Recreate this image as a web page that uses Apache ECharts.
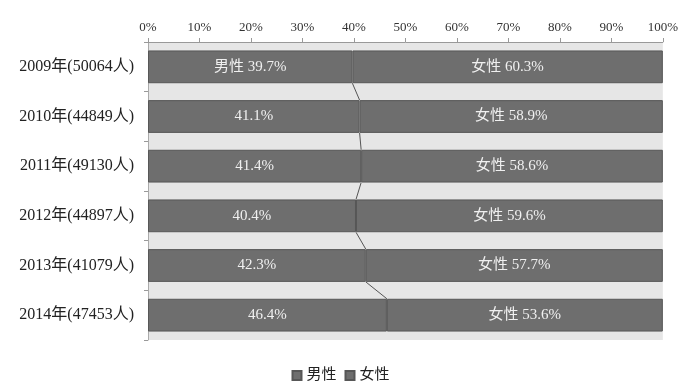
<!DOCTYPE html>
<html><head><meta charset="utf-8">
<script src="https://cdn.jsdelivr.net/npm/echarts@6/dist/echarts.min.js"></script>
<style>html,body{margin:0;padding:0;background:#fff}#c{width:681px;height:385px}</style>
</head><body><div id="c"></div>
<script>
const categories = ['2009年(50064人)','2010年(44849人)','2011年(49130人)','2012年(44897人)','2013年(41079人)','2014年(47453人)'];
const male = [39.7, 41.1, 41.4, 40.4, 42.3, 46.4];
const female = [60.3, 58.9, 58.6, 59.6, 57.7, 53.6];
const xTicks = [0,10,20,30,40,50,60,70,80,90,100];
const seriesNames = ['男性','女性'];

const FONT = '"Liberation Serif", "Noto Sans CJK SC", serif';
const BAR_RATIO = 0.66;
const connectors = [];
for (let i = 0; i < male.length - 1; i++) connectors.push([male[i], i, male[i+1], i+1]);

const chart = echarts.init(document.getElementById('c'));
chart.setOption({
  animation: false,
  textStyle: { fontFamily: FONT },
  grid: { left: 148, right: 17, top: 42, bottom: 45, show: true, backgroundColor: '#e6e6e6', borderWidth: 0 },
  xAxis: {
    type: 'value', position: 'top', min: xTicks[0], max: xTicks[xTicks.length-1], interval: 10,
    axisLabel: { formatter: v => v + '%', color: '#333', fontSize: 13, fontFamily: FONT, margin: 8 },
    axisLine: { show: true, lineStyle: { color: '#999' } },
    axisTick: { show: true, length: 4, lineStyle: { color: '#999' } },
    splitLine: { show: false }
  },
  yAxis: {
    type: 'category', data: categories, inverse: true,
    axisLabel: { color: '#222', fontSize: 16, fontFamily: FONT, margin: 14 },
    axisLine: { show: true, lineStyle: { color: '#aaa' } },
    axisTick: { show: true, length: 4, lineStyle: { color: '#999' } }
  },
  legend: {
    bottom: -3, left: 'center', itemWidth: 9, itemHeight: 9, itemGap: 8, icon: 'rect',
    textStyle: { color: '#222', fontSize: 15, fontFamily: FONT },
    data: seriesNames
  },
  series: [
    {
      name: seriesNames[0], type: 'bar', stack: 't', data: male, barWidth: (BAR_RATIO*100)+'%',
      itemStyle: { color: '#6e6e6e', borderColor: '#575757', borderWidth: 1 },
      label: { show: true, position: 'inside', color: '#f0f0f0', fontSize: 15, fontFamily: FONT,
        formatter: p => (p.dataIndex === 0 ? '男性 ' : '') + p.value.toFixed(1) + '%' }
    },
    {
      name: seriesNames[1], type: 'bar', stack: 't', data: female, barWidth: (BAR_RATIO*100)+'%',
      itemStyle: { color: '#6e6e6e', borderColor: '#575757', borderWidth: 1 },
      label: { show: true, position: 'inside', color: '#f0f0f0', fontSize: 15, fontFamily: FONT,
        formatter: p => '女性 ' + p.value.toFixed(1) + '%' }
    },
    {
      type: 'custom', data: connectors, silent: true, z: 5,
      renderItem: (params, api) => {
        const p1 = api.coord([api.value(0), api.value(1)]);
        const p2 = api.coord([api.value(2), api.value(3)]);
        const half = api.size([0, 1])[1] * BAR_RATIO / 2;
        return { type: 'line', shape: { x1: p1[0], y1: p1[1] + half, x2: p2[0], y2: p2[1] - half },
          style: { stroke: '#555', lineWidth: 1 } };
      }
    }
  ]
});
</script></body></html>
